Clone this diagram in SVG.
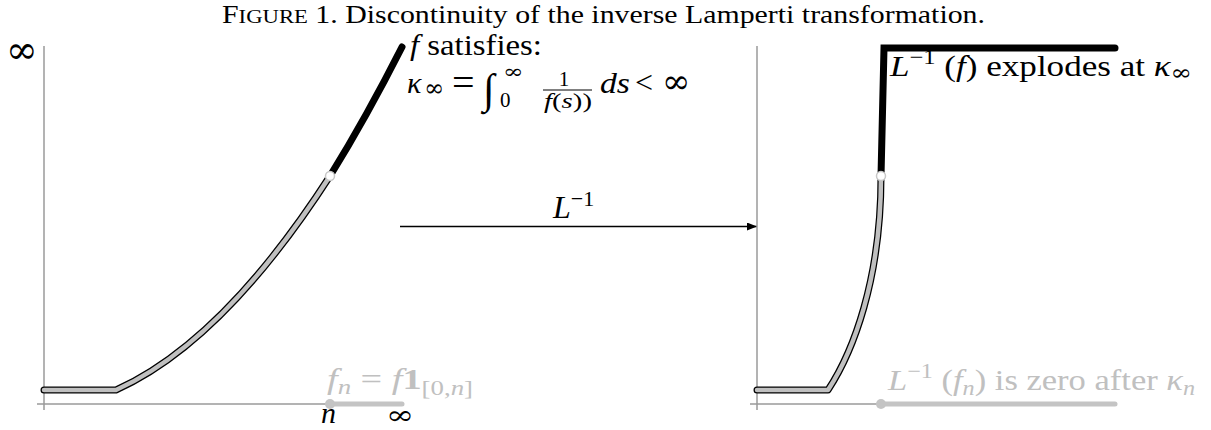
<svg xmlns="http://www.w3.org/2000/svg" width="1211" height="430" viewBox="0 0 1211 430">
<style>
text{font-family:"Liberation Serif","DejaVu Serif",serif;fill:#000}
.it{font-style:italic}
.inf{font-family:"DejaVu Serif",serif;font-style:normal}
.lg{fill:#c0c0c0}
.axis{stroke:#9a9a9a;stroke-width:1.5;fill:none}
.outline{stroke:#000;stroke-width:7;fill:none;stroke-linecap:round;stroke-linejoin:round}
.inner{stroke:#c0c0c0;stroke-width:4.5;fill:none;stroke-linecap:round;stroke-linejoin:round}
.thick{stroke:#000;stroke-width:7;fill:none;stroke-linecap:round}
.tail{stroke:#c4c4c4;stroke-width:5;fill:none;stroke-linecap:round}
.open{fill:#fff;stroke:#c8c8c8;stroke-width:1.5}
</style>
<defs>
<marker id="ah" viewBox="0 0 10 8" refX="10" refY="4" markerWidth="10" markerHeight="8" markerUnits="userSpaceOnUse" orient="auto">
<path d="M0,0 L10,4 L0,8 z" fill="#000"/>
</marker>
</defs>

<text x="222" y="23" font-size="25" textLength="763" lengthAdjust="spacingAndGlyphs">F<tspan font-size="19">IGURE</tspan> 1. Discontinuity of the inverse Lamperti transformation.</text>

<g id="left-plot">
<line class="axis" x1="44" y1="46" x2="44" y2="410"/>
<line class="axis" x1="37" y1="404" x2="330" y2="404"/>
<path class="outline" d="M44,390 L116,390 Q223,341.8 330,176"/>
<path class="inner" d="M44,390 L116,390 Q223,341.8 330,176"/>
<path class="thick" d="M330,176 Q366,118 402,47"/>
<circle class="open" cx="330" cy="176" r="4.5"/>
<line class="tail" x1="330" y1="404" x2="402" y2="404"/>
<circle cx="330" cy="404" r="5" fill="#c4c4c4"/>
<text x="6" y="63" font-size="38" class="inf">∞</text>
<text x="321" y="423" font-size="30" class="it">n</text>
<text font-size="26" class="inf" transform="translate(386,424) scale(1.3,1)">∞</text>
<text x="327" y="389" font-size="30" class="lg" textLength="146" lengthAdjust="spacingAndGlyphs"><tspan class="it">f</tspan><tspan class="it" font-size="21" dy="5">n</tspan><tspan dy="-5"> = </tspan><tspan class="it">f</tspan><tspan font-weight="bold">1</tspan><tspan font-size="21" dy="6">[0,</tspan><tspan font-size="21" class="it">n</tspan><tspan font-size="21">]</tspan></text>
</g>

<g id="left-label">
<text x="410" y="55" font-size="30" textLength="132" lengthAdjust="spacingAndGlyphs"><tspan class="it">f</tspan> satisfies:</text>
<text x="407" y="93" font-size="30" class="it">κ</text>
<text x="424" y="96" font-size="24" class="inf">∞</text>
<text x="452" y="96" font-size="40">=</text>
<text x="483" y="103" font-size="42">∫</text>
<text font-size="19" class="inf" transform="translate(503,78) scale(1.3,1)">∞</text>
<text x="500" y="107" font-size="21">0</text>
<text x="564" y="86" font-size="21" text-anchor="middle">1</text>
<line x1="543" y1="90" x2="592" y2="90" stroke="#000" stroke-width="1"/>
<text x="544" y="108" font-size="21" textLength="48" lengthAdjust="spacingAndGlyphs"><tspan class="it">f</tspan>(<tspan class="it">s</tspan>))</text>
<text x="600" y="93" font-size="30" class="it" textLength="30" lengthAdjust="spacingAndGlyphs">ds</text>
<text x="635" y="93" font-size="32">&lt;</text>
<text x="662" y="93" font-size="34" class="inf">∞</text>
</g>

<g id="connectors">
<line x1="400" y1="226.5" x2="757" y2="226.5" stroke="#000" stroke-width="1.3" marker-end="url(#ah)"/>
<text x="553" y="218" font-size="32"><tspan class="it">L</tspan><tspan font-size="22" dy="-12">−1</tspan></text>
</g>

<g id="right-plot">
<line class="axis" x1="757" y1="46" x2="757" y2="410"/>
<line class="axis" x1="750" y1="404" x2="880" y2="404"/>
<path class="outline" d="M757,390 L828,390 C853,352 881,280 881,176"/>
<path class="inner" d="M757,390 L828,390 C853,352 881,280 881,176"/>
<path d="M881,176 L884,48 L1115,48" fill="none" stroke="#000" stroke-width="7" stroke-linecap="round" stroke-linejoin="miter"/>
<circle class="open" cx="881" cy="176" r="4.5"/>
<line class="tail" x1="881" y1="404" x2="1115" y2="404"/>
<circle cx="881" cy="404" r="5" fill="#c4c4c4"/>
<text x="890" y="76" font-size="30" textLength="302" lengthAdjust="spacingAndGlyphs"><tspan class="it">L</tspan><tspan font-size="21" dy="-12">−1</tspan><tspan dy="12"> (</tspan><tspan class="it">f</tspan>) explodes at <tspan class="it">κ</tspan><tspan class="inf" font-size="22" dy="4">∞</tspan></text>
<text x="888" y="390" font-size="30" class="lg" textLength="307" lengthAdjust="spacingAndGlyphs"><tspan class="it">L</tspan><tspan font-size="21" dy="-12">−1</tspan><tspan dy="12"> (</tspan><tspan class="it">f</tspan><tspan class="it" font-size="21" dy="5">n</tspan><tspan dy="-5">) is zero after </tspan><tspan class="it">κ</tspan><tspan class="it" font-size="21" dy="5">n</tspan></text>
</g>
</svg>
